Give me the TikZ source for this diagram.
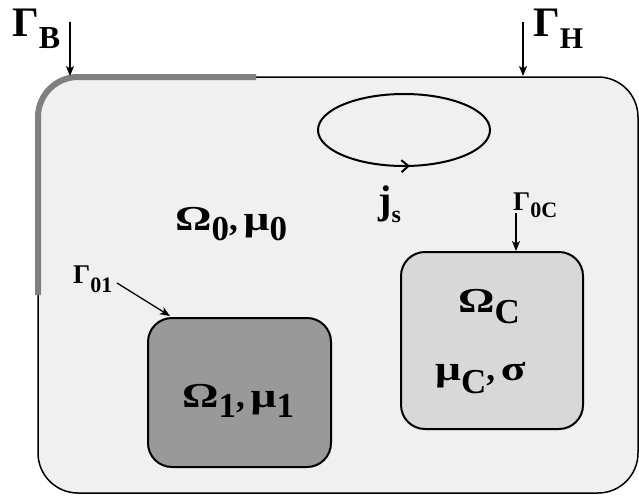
\documentclass[tikz,border=0pt]{standalone}
\usepackage{fontspec}
\usepackage{graphicx}
\setmainfont{Liberation Serif}
\usetikzlibrary{arrows.meta,decorations.markings}
\definecolor{bgfill}{RGB}{240,240,240}
\definecolor{bndgray}{RGB}{128,128,128}
\definecolor{darkfill}{RGB}{153,153,153}
\definecolor{lightfill}{RGB}{216,216,216}
\newcommand{\fsz}[1]{\fontsize{#1}{#1}\selectfont}
\newcommand{\lowr}[2]{\raisebox{-#1pt}{#2}}
\newcommand{\wid}[1]{\scalebox{1.3}[1]{#1}}
\begin{document}
\begin{tikzpicture}[x=1pt,y=-1pt,
  region/.style={draw=black,line width=1.5pt,rounded corners=40pt,inner sep=0pt},
  subbox/.style={draw=black,line width=2pt,rounded corners=24pt,inner sep=0pt},
  gbound/.style={draw=bndgray,line width=6pt,rounded corners=40pt},
  lbl/.style={anchor=base west,inner sep=0pt,font=\bfseries},
  arr/.style={line width=1.3pt,-{Stealth[length=10pt,width=8pt,inset=2.5pt]}},
  loopline/.style={line width=2pt}
]
\useasboundingbox (0,0) rectangle (639,499);

% outer domain
\node[region,fill=bgfill,minimum width=600pt,minimum height=416pt] (outer) at (338,285) {};
\draw[gbound] (256,77) -- (38,77) -- (38,295);

% inner domains
\node[subbox,fill=darkfill,minimum width=183pt,minimum height=149pt] (om1) at (239.5,392.5) {};
\node[subbox,fill=lightfill,minimum width=182pt,minimum height=177pt] (omC) at (492,340.5) {};

% current loop
\draw[loopline,postaction={decorate},
  decoration={markings,mark=at position 0.235 with {\arrowreversed{Straight Barb[length=7pt,width=12pt,line width=2pt]}}}]
  (404,130) ellipse [x radius=86, y radius=36];

% labels
\node[lbl] (gB) at (12,36) {\fsz{42}Γ\lowr{12}{\fsz{32}B}};
\node[lbl] (gH) at (533,36) {\fsz{42}Γ\lowr{12}{\fsz{30}H}};
\node[lbl] (js) at (378,213) {\fsz{40}j\lowr{9}{\fsz{24}s}};
\node[lbl] (om0) at (175,230) {\fsz{35}\wid{Ω}\lowr{10}{0},\,\wid{μ}\lowr{10}{0}};
\node[lbl] (g01) at (73,283) {\fsz{27}Γ\lowr{9}{\fsz{22}01}};
\node[lbl] (g0C) at (513,210) {\fsz{27}Γ\lowr{7}{\fsz{22}0C}};
\node[lbl] (om1t) at (182,407) {\fsz{35}\wid{Ω}\lowr{10}{1},\,\wid{μ}\lowr{10}{1}};
\node[lbl] (omCt) at (458,312) {\fsz{35}\wid{Ω}\lowr{11}{C}};
\node[lbl] (muC) at (435,380) {\fsz{35}\wid{μ}\lowr{13}{C},\,\wid{σ}};

% arrow ends
\coordinate (gBs) at (70,22);  \coordinate (gBe) at (70,76);
\coordinate (gHs) at (523,22); \coordinate (gHe) at (523,76);
\coordinate (g01s) at (117,283); \coordinate (g01e) at (170,316);
\coordinate (g0Cs) at (516,213); \coordinate (g0Ce) at (516,251);

\draw[arr] (gBs) -- (gBe);
\draw[arr] (gHs) -- (gHe);
\draw[arr] (g01s) -- (g01e);
\draw[arr] (g0Cs) -- (g0Ce);
\end{tikzpicture}
\end{document}
